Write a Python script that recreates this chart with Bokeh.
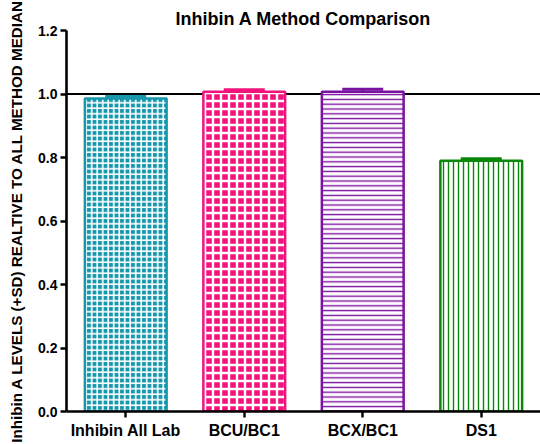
from bokeh.plotting import figure
from bokeh.models import FactorRange, Range1d, Span, FixedTicker, PrintfTickFormatter
from bokeh.transform import dodge
from bokeh.embed import file_html
from bokeh.resources import INLINE

categories = ["Inhibin All Lab", "BCU/BC1", "BCX/BC1", "DS1"]
values = [0.986, 1.007, 1.007, 0.790]
sd = [0.006, 0.006, 0.008, 0.006]
y_ticks = [0.0, 0.2, 0.4, 0.6, 0.8, 1.0, 1.2]
reference_level = 1.0

colors = ["#1797ac", "#f0147c", "#7a12a0", "#0a870a"]

# bar styles: filled-with-white-mesh for the first two, line hatches for the others
fills = [colors[0], colors[1], "white", "white"]
hatch_colors = ["white", "white", colors[2], colors[3]]
patterns = ["cross", "cross", "horizontal_line", "vertical_line"]
scales = [5.5, 8, 4.8, 5]
weights = [1.6, 2.4, 1.4, 1.4]

p = figure(x_range=FactorRange(*categories, range_padding=0),
           y_range=Range1d(0, 1.2),
           width=540, height=444,
           output_backend="svg", toolbar_location=None,
           min_border_left=66, min_border_right=0,
           min_border_top=30, min_border_bottom=33)

p.title.text = "Inhibin A Method Comparison"
p.title.text_font = "Liberation Sans"
p.title.text_font_size = "18px"
p.title.text_font_style = "bold"
p.title.text_color = "black"
p.title.align = "center"
p.title.offset = 17
p.title.standoff = 4

p.xgrid.grid_line_color = None
p.ygrid.grid_line_color = None
p.outline_line_color = None

p.add_layout(Span(location=reference_level, dimension="width", line_color="black",
                  line_width=1.8, level="underlay"))

for i, cat in enumerate(categories):
    p.vbar(x=[cat], top=[values[i]], width=0.69, bottom=0,
           fill_color=fills[i], line_color=colors[i], line_width=2.5,
           hatch_pattern=patterns[i], hatch_color=hatch_colors[i],
           hatch_scale=scales[i], hatch_weight=weights[i])
    upper = values[i] + sd[i]
    p.segment(x0=[cat], x1=[cat], y0=[values[i]], y1=[upper],
              line_color=colors[i], line_width=3)
    p.segment(x0=dodge("x", -0.173, range=p.x_range), x1=dodge("x", 0.173, range=p.x_range),
              y0="y", y1="y", source=dict(x=[cat], y=[upper]),
              line_color=colors[i], line_width=3)

for ax in (p.xaxis[0], p.yaxis[0]):
    ax.axis_line_width = 2.6
    ax.axis_line_color = "black"
    ax.major_tick_line_width = 2.4
    ax.major_tick_line_color = "black"
    ax.major_tick_out = 6
    ax.major_tick_in = 0
    ax.minor_tick_line_color = None
    ax.major_label_text_font = "Liberation Sans"
    ax.major_label_text_font_style = "bold"
    ax.major_label_text_color = "black"

p.yaxis.ticker = FixedTicker(ticks=y_ticks)
p.yaxis.formatter = PrintfTickFormatter(format="%.1f")
p.yaxis.major_label_text_font_size = "14px"
p.yaxis.major_label_standoff = 3
p.yaxis.axis_label = "Inhibin A LEVELS (+SD) REALTIVE TO ALL METHOD MEDIAN"
p.yaxis.axis_label_text_font = "Liberation Sans"
p.yaxis.axis_label_text_font_style = "bold"
p.yaxis.axis_label_text_font_size = "15.2px"
p.yaxis.axis_label_standoff = 10
p.yaxis.axis_label_text_color = "black"

p.xaxis.major_label_text_font_size = "16px"
p.xaxis.major_label_standoff = 4

open("out.html", "w").write(file_html(p, INLINE))
